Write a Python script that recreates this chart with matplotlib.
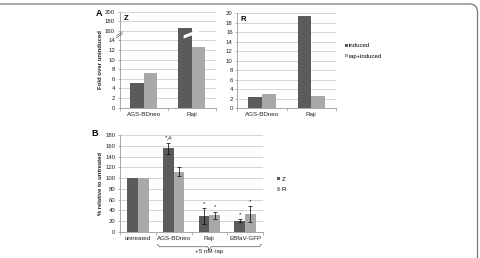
import numpy as np
import matplotlib
matplotlib.use("Agg")
import matplotlib.pyplot as plt
from matplotlib.patches import Polygon, PathPatch
from matplotlib.path import Path
from matplotlib.lines import Line2D
import matplotlib.transforms as mtrans

plt.rcParams['font.family'] = ['Liberation Sans', 'DejaVu Sans']

# ---------------- data ----------------
a_categories = ["AGS-BDneo", "Raji"]
z_induced = [5.1, 165]
z_rap_induced = [7.3, 12.7]
z_ticks = [0, 2, 4, 6, 8, 10, 12, 14, 160, 180, 200]

r_induced = [2.26, 19.45]
r_rap_induced = [2.96, 2.54]
r_ticks = [0, 2, 4, 6, 8, 10, 12, 14, 16, 18, 20]

b_categories = ["untreated", "AGS-BDneo", "Raji", "EBfaV-GFP"]
b_z = [100, 155, 30, 21]
b_z_err = [0, 11, 14.5, 3]
b_r = [100, 112, 31, 33]
b_r_err = [0, 8.5, 7, 15]
b_z_marks = ["", "*,#", "*", "*"]
b_r_marks = ["", "", "*", "*"]
b_ticks = [0, 20, 40, 60, 80, 100, 120, 140, 160, 180]

DARK = "#5b5b5b"
LIGHT = "#a8a8a8"
GRID = "#cfcfcf"
AX = "#9a9a9a"
TXT = "#222222"

W, H = 480, 258
fig = plt.figure(figsize=(W / 100, H / 100), dpi=100)
fig.patch.set_facecolor("white")


def px_axes(x0, y_top, x1, y_bot):
    return fig.add_axes([x0 / W, 1 - y_bot / H, (x1 - x0) / W, (y_bot - y_top) / H])


def style(ax, ticks, labels=None, fs=4.3):
    ax.set_yticks(ticks)
    if labels is not None:
        ax.set_yticklabels(labels)
    ax.yaxis.grid(True, color=GRID, linewidth=0.6)
    ax.set_axisbelow(True)
    for s in ["top", "right"]:
        ax.spines[s].set_visible(False)
    ax.spines["left"].set_color(AX)
    ax.spines["bottom"].set_color(AX)
    ax.spines["left"].set_linewidth(0.6)
    ax.spines["bottom"].set_linewidth(0.6)
    ax.tick_params(axis="y", length=1.8, width=0.5, color=AX, labelsize=fs,
                   labelcolor=TXT, pad=1.5)
    ax.tick_params(axis="x", which="major", length=0, labelsize=fs + 0.2,
                   labelcolor=TXT, pad=3)
    ax.tick_params(axis="x", which="minor", length=2, width=0.5, color=AX)


# ---------------- panel A, Z (broken axis) ----------------
def fwd(v):
    v = np.asarray(v, dtype=float)
    return np.where(v <= 14.5, v,
                    np.where(v >= 150, 15 + (v - 150) / 10.0,
                             14.5 + (v - 14.5) * 0.5 / 135.5))


def inv(t):
    t = np.asarray(t, dtype=float)
    return np.where(t <= 14.5, t,
                    np.where(t >= 15, 150 + (t - 15) * 10.0,
                             14.5 + (t - 14.5) * 135.5 / 0.5))


w = 0.28
x = np.arange(len(a_categories))
axz = px_axes(119.5, 11.7, 216, 107.7)
axz.set_yscale("function", functions=(fwd, inv))
axz.bar(x - w / 2, z_induced, w, color=DARK)
axz.bar(x + w / 2, z_rap_induced, w, color=LIGHT)
axz.set_ylim(0, 200)
axz.set_xlim(-0.5, 1.5)
axz.set_xticks(x)
axz.set_xticklabels(a_categories)
axz.set_xticks([-0.5, 0.5, 1.5], minor=True)
style(axz, z_ticks, [str(t) for t in z_ticks])
axz.text(0.04, 0.93, "Z", transform=axz.transAxes, fontsize=5.5,
         fontweight="bold", va="center", ha="left")
axz.set_ylabel("Fold over uninduced", fontsize=4.3, fontweight="bold",
               color=TXT, labelpad=1)
# break on bar
tr = mtrans.blended_transform_factory(axz.transData, axz.transAxes)
yb = 15.0 / 20
bx0, bx1 = x[1] - w / 2 - 0.03, x[1] + w / 2
axz.add_patch(Polygon([(bx0, yb - 0.03), (bx1, yb + 0.03), (bx1, yb + 0.065),
                       (bx0, yb + 0.005)], closed=True, transform=tr,
                      facecolor="white", edgecolor="none", zorder=5))
# break on axis
for dy in (0.0, 0.02):
    axz.add_line(Line2D([-0.03, 0.03], [yb - 0.02 + dy, yb + 0.02 + dy],
                        transform=axz.transAxes, color="#666666",
                        linewidth=0.5, clip_on=False, zorder=6))
fig.text(99 / W, 1 - 14 / H, "A", fontsize=6.5, fontweight="bold",
         va="center", ha="center")

# ---------------- panel A, R ----------------
axr = px_axes(237.3, 13.3, 336, 108)
axr.bar(x - w / 2, r_induced, w, color=DARK, label="induced")
axr.bar(x + w / 2, r_rap_induced, w, color=LIGHT, label="rap+induced")
axr.set_ylim(0, 20)
axr.set_xlim(-0.5, 1.5)
axr.set_xticks(x)
axr.set_xticklabels(a_categories)
axr.set_xticks([-0.5, 0.5, 1.5], minor=True)
style(axr, r_ticks)
axr.text(0.03, 0.93, "R", transform=axr.transAxes, fontsize=5.5,
         fontweight="bold", va="center", ha="left")
axr.legend(loc="center left", bbox_to_anchor=(1.06, 0.6), frameon=False,
           fontsize=4.3, handlelength=0.5, handleheight=0.5,
           handletextpad=0.2, labelspacing=0.9, borderpad=0)

# ---------------- panel B ----------------
xb = np.arange(len(b_categories))
wb = 0.3
axb = px_axes(120, 135, 263, 232)
ek = dict(ecolor="black", elinewidth=0.5, capsize=1.5, capthick=0.5)
axb.bar(xb - wb / 2, b_z, wb, color=DARK, label="Z",
        yerr=[e if e > 0 else np.nan for e in b_z_err], error_kw=ek)
axb.bar(xb + wb / 2, b_r, wb, color=LIGHT, label="R",
        yerr=[e if e > 0 else np.nan for e in b_r_err], error_kw=ek)
axb.set_ylim(0, 180)
axb.set_xlim(-0.5, 3.5)
axb.set_xticks(xb)
axb.set_xticklabels(b_categories)
axb.set_xticks([-0.5, 0.5, 1.5, 2.5, 3.5], minor=True)
style(axb, b_ticks)
for i in range(len(b_categories)):
    if b_z_marks[i]:
        axb.annotate(b_z_marks[i], (xb[i] - wb / 2, b_z[i] + b_z_err[i]),
                     xytext=(0, 1.5), textcoords="offset points",
                     ha="center", va="bottom", fontsize=4.5, color=TXT)
    if b_r_marks[i]:
        axb.annotate(b_r_marks[i], (xb[i] + wb / 2, b_r[i] + b_r_err[i]),
                     xytext=(0, 1.5), textcoords="offset points",
                     ha="center", va="bottom", fontsize=4.5, color=TXT)
axb.set_ylabel("% relative to untreated", fontsize=4.2, fontweight="bold",
               color=TXT, labelpad=1.5)
axb.legend(loc="center left", bbox_to_anchor=(1.08, 0.49), frameon=False,
           fontsize=4.3, handlelength=0.5, handleheight=0.5,
           handletextpad=0.2, labelspacing=0.9, borderpad=0)
fig.text(95 / W, 1 - 134 / H, "B", fontsize=6.5, fontweight="bold",
         va="center", ha="center")
# bracket "+5 nM rap"
trb = mtrans.blended_transform_factory(axb.transData, axb.transAxes)
y0 = -0.152
bx = [0.55, 0.6, 1.95, 2.0, 2.05, 3.4, 3.45]
by = [y0 + 0.025, y0, y0, y0 - 0.03, y0, y0, y0 + 0.025]
axb.add_line(Line2D(bx, by, transform=trb, color="#555555", linewidth=0.5,
                    clip_on=False))
axb.text(2.0, -0.205, "+5 nM rap", transform=trb, fontsize=4.5, ha="center",
         va="center", color=TXT)

# ---------------- border (pixel coordinates, y up) ----------------
r = 8
top = 254
right = 477.5
verts = [(-5, top), (right - r, top), (right, top), (right, top - r),
         (right, -5)]
codes = [Path.MOVETO, Path.LINETO, Path.CURVE3, Path.CURVE3, Path.LINETO]
fig.add_artist(PathPatch(Path(verts, codes), transform=mtrans.IdentityTransform(),
                         facecolor="none", edgecolor="#777777", linewidth=0.9))

fig.savefig("out.png", dpi=100)
